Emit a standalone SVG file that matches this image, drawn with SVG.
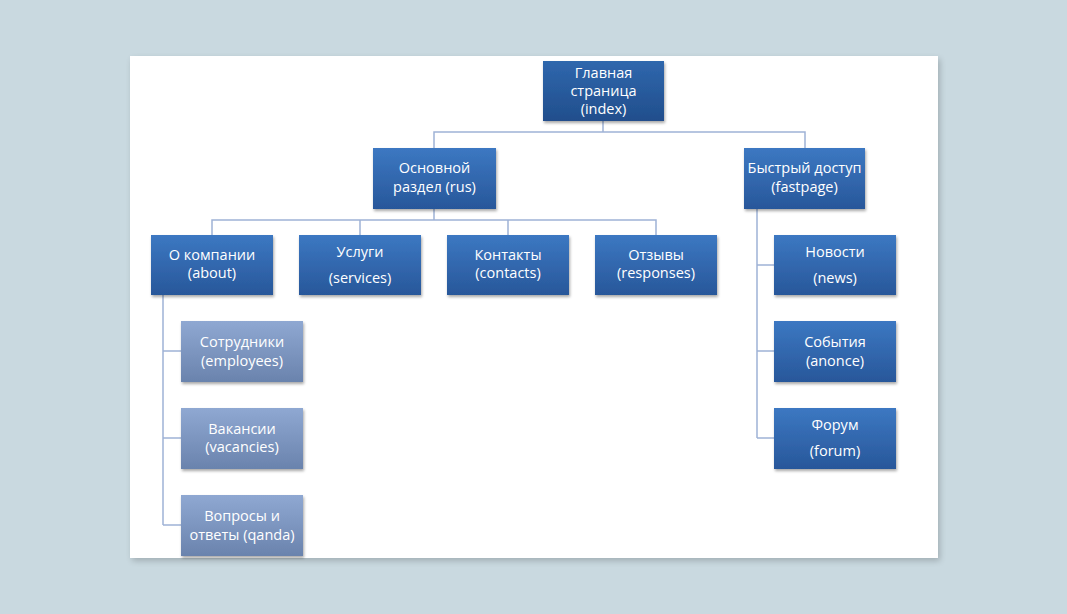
<svg xmlns="http://www.w3.org/2000/svg" width="1067" height="614" viewBox="0 0 1067 614">
<defs>
<linearGradient id="gDark" x1="0" y1="0" x2="0" y2="1">
<stop offset="0" stop-color="#3c78c2"/>
<stop offset="1" stop-color="#28579a"/>
</linearGradient>
<linearGradient id="gTop" x1="0" y1="0" x2="0" y2="1">
<stop offset="0" stop-color="#2f67ad"/>
<stop offset="1" stop-color="#214e8c"/>
</linearGradient>
<linearGradient id="gLight" x1="0" y1="0" x2="0" y2="1">
<stop offset="0" stop-color="#8fa8d2"/>
<stop offset="1" stop-color="#6a83ad"/>
</linearGradient>
<filter id="sh" x="-10%" y="-10%" width="130%" height="140%">
<feGaussianBlur in="SourceAlpha" stdDeviation="1.5"/>
<feOffset dx="1" dy="2" result="b"/>
<feComponentTransfer><feFuncA type="linear" slope="0.35"/></feComponentTransfer>
<feMerge><feMergeNode/><feMergeNode in="SourceGraphic"/></feMerge>
</filter>
<filter id="panelSh" x="-5%" y="-5%" width="110%" height="110%">
<feGaussianBlur in="SourceAlpha" stdDeviation="3"/>
<feOffset dx="2" dy="3"/>
<feComponentTransfer><feFuncA type="linear" slope="0.2"/></feComponentTransfer>
<feMerge><feMergeNode/><feMergeNode in="SourceGraphic"/></feMerge>
</filter>
</defs>
<style>
.box{stroke:none;filter:url(#sh)}
.dark{fill:url(#gDark)}
.top{fill:url(#gTop)}
.light{fill:url(#gLight)}
.t{font-family:"Open Sans","Liberation Sans",sans-serif;font-size:14.5px;fill:#ffffff;text-anchor:middle}
.c{fill:none;stroke:#9fb2d6;stroke-width:1.5}
</style>
<rect width="1067" height="614" fill="#c9d9e0"/>
<rect x="130" y="56" width="808" height="502" fill="#ffffff" filter="url(#panelSh)"/>

<g id="connectors">
<path class="c" d="M603 121V132M434 148V132H805V148"/>
<path class="c" d="M434 209V220M212 235V220H656V235M360 220V235M508 220V235"/>
<path class="c" d="M163 295V525M163 351H181M163 438H181M163 525H181"/>
<path class="c" d="M757 209V438M757 265H774M757 351H774M757 438H774"/>
</g>

<g id="index"><rect class="box top" x="543" y="61" width="121" height="60"/>
<text class="t" x="603.5" y="78">Главная</text><text class="t" x="603.5" y="96">страница</text><text class="t" x="603.5" y="114">(index)</text></g>

<g id="rus"><rect class="box dark" x="373" y="148" width="123" height="61"/>
<text class="t" x="434.5" y="173">Основной</text><text class="t" x="434.5" y="192">раздел (rus)</text></g>

<g id="fastpage"><rect class="box dark" x="744" y="148" width="121" height="61"/>
<text class="t" x="804.5" y="173">Быстрый доступ</text><text class="t" x="804.5" y="192">(fastpage)</text></g>

<g id="about"><rect class="box dark" x="151" y="235" width="122" height="60"/>
<text class="t" x="212" y="260">О компании</text><text class="t" x="212" y="278">(about)</text></g>

<g id="services"><rect class="box dark" x="299" y="235" width="122" height="60"/>
<text class="t" x="360" y="257">Услуги</text><text class="t" x="360" y="283">(services)</text></g>

<g id="contacts"><rect class="box dark" x="447" y="235" width="122" height="60"/>
<text class="t" x="508" y="260">Контакты</text><text class="t" x="508" y="278">(contacts)</text></g>

<g id="responses"><rect class="box dark" x="595" y="235" width="122" height="60"/>
<text class="t" x="656" y="260">Отзывы</text><text class="t" x="656" y="278">(responses)</text></g>

<g id="employees"><rect class="box light" x="181" y="321" width="122" height="61"/>
<text class="t" x="242" y="347">Сотрудники</text><text class="t" x="242" y="366">(employees)</text></g>

<g id="vacancies"><rect class="box light" x="181" y="408" width="122" height="61"/>
<text class="t" x="242" y="434">Вакансии</text><text class="t" x="242" y="452">(vacancies)</text></g>

<g id="qanda"><rect class="box light" x="181" y="495" width="122" height="61"/>
<text class="t" x="242" y="521">Вопросы и</text><text class="t" x="242" y="540">ответы (qanda)</text></g>

<g id="news"><rect class="box dark" x="774" y="235" width="122" height="60"/>
<text class="t" x="835" y="257">Новости</text><text class="t" x="835" y="283">(news)</text></g>

<g id="anonce"><rect class="box dark" x="774" y="321" width="122" height="61"/>
<text class="t" x="835" y="347">События</text><text class="t" x="835" y="366">(anonce)</text></g>

<g id="forum"><rect class="box dark" x="774" y="408" width="122" height="61"/>
<text class="t" x="835" y="430">Форум</text><text class="t" x="835" y="456">(forum)</text></g>
</svg>
